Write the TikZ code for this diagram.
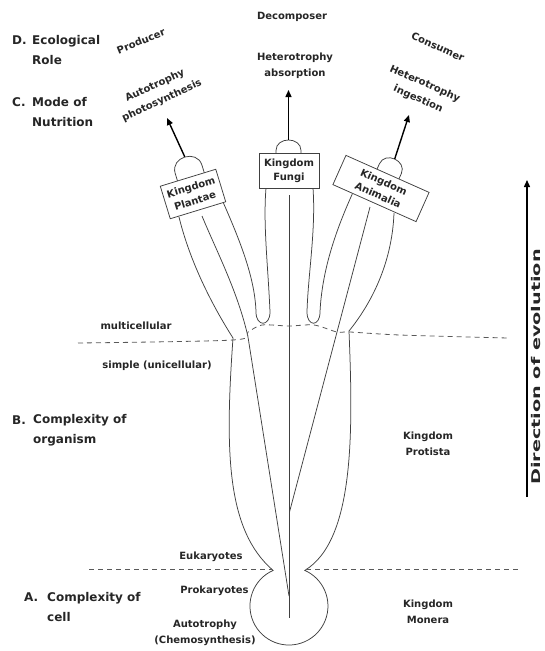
\documentclass[tikz,border=0pt]{standalone}
\usepackage{fontspec}
\setmainfont{DejaVu Sans}
\usetikzlibrary{arrows.meta,calc}
\begin{document}
\begin{tikzpicture}[x=1pt,y=-1pt,
  outline/.style={draw=black!75, line width=0.75pt},
  divider/.style={draw=black!65, line width=0.8pt, dash pattern=on 5pt off 4pt},
  kbox/.style={draw=black!75, fill=white, line width=0.75pt, align=center, inner sep=0pt, font=\bfseries\fontsize{10}{14}\selectfont, text=black!85},
  lab/.style={align=center, inner sep=0pt, font=\bfseries\fontsize{10}{16.5}\selectfont, text=black!85},
  sect/.style={align=left, anchor=west, inner sep=0pt, font=\bfseries\fontsize{12}{20}\selectfont, text=black!85},
  bigarrow/.style={draw=black, line width=1.4pt, -{Triangle[length=7pt,width=6pt]}},
]
\fill[white] (0,0) rectangle (545,651);
\useasboundingbox (0,0) rectangle (545,651);

% domes on top of the branches
\begin{scope}[shift={(193,194)}, rotate=17]
  \draw[outline] (-11,-17) -- (-11,-25) .. controls (-11,-42) and (17,-42) .. (17,-25) -- (17,-17);
  \coordinate (pbase) at (3,-38);
\end{scope}
\begin{scope}[shift={(289,170.5)}]
  \draw[outline] (-13,-17.5) -- (-13,-20) .. controls (-13,-34) and (12,-34) .. (12,-20) -- (12,-17.5);
  \coordinate (fbase) at (-0.5,-30.5);
\end{scope}
\begin{scope}[shift={(381,188.5)}, rotate=-24]
  \draw[outline] (-11.5,-16) -- (-11.5,-22) .. controls (-11.5,-36) and (12.5,-36) .. (12.5,-22) -- (12.5,-16);
  \coordinate (abase) at (0.5,-32.5);
\end{scope}
\coordinate (ptip) at (167,118);
\coordinate (ftip) at (288.5,90);
\coordinate (atip) at (409,115);

% outer outline: Plantae left edge, Protista balloon, Monera circle, Animalia right edge
\draw[outline] (179,217) .. controls (190,262) and (212,305) .. (233,338)
  .. controls (225,450) and (226,530) .. (273.1,570.4)
  arc[start angle=114, end angle=426, radius=39pt]
  .. controls (355,540) and (353,430) .. (349,331)
  .. controls (370,305) and (392,265) .. (394,213);

% Plantae right edge, gap, Fungi left edge
\draw[outline] (223,202) .. controls (242,245) and (255,280) .. (256,312)
  .. controls (256,327) and (270,327) .. (270,312)
  .. controls (268,265) and (263,225) .. (266,188);
% Fungi right edge, gap, Animalia left edge
\draw[outline] (313,188) .. controls (316,230) and (308,275) .. (307,312)
  .. controls (307,327) and (320,327) .. (320,312)
  .. controls (322,270) and (336,230) .. (352.5,193.5);

% stems from the Monera centre
\draw[outline] (202,216) .. controls (216,250) and (238,292) .. (248,337) -- (289,596);
\draw[outline] (289,195) -- (289,618);
\draw[outline] (370,207) -- (289.5,512);

% dividers
\draw[divider] plot[smooth, tension=0.5] coordinates {(78,343) (233,340) (248,332) (262,325) (289,326) (314,325) (337,332) (350,332) (400,335) (508,338)};
\draw[divider] (89,569) -- (272,569);
\draw[divider] (306,569) -- (521,569);

% kingdom boxes
\node[kbox, minimum width=58pt, minimum height=34pt, rotate=17] (plantae) at (193,194) {Kingdom\\Plantae};
\node[kbox, minimum width=60pt, minimum height=35pt] (fungi) at (289,170.5) {Kingdom\\Fungi};
\node[kbox, minimum width=91pt, minimum height=32pt, rotate=-24] (animalia) at (381,188.5) {Kingdom\\Animalia};

% arrows of nutrition
\draw[bigarrow] (pbase) -- (ptip);
\draw[bigarrow] (fbase) -- (ftip);
\draw[bigarrow] (abase) -- (atip);

% top labels
\node[lab, rotate=22] (producer) at (141,41) {Producer};
\node[lab] (decomposer) at (292,17) {Decomposer};
\node[lab, rotate=-24] (consumer) at (438,47) {Consumer};
\node[lab, rotate=25] (autotrophy) at (158.5,93) {Autotrophy\\photosynthesis};
\node[lab] (absorption) at (295,65.5) {Heterotrophy\\absorption};
\node[lab, rotate=-24] (ingestion) at (421.5,91.5) {Heterotrophy\\ingestion};

% section labels
\node[sect] (dl) at (12,40) {D.};
\node[sect] (dt) at (32,50) {Ecological\\Role};
\node[sect] (cl) at (12,102.5) {C.};
\node[sect] (ct) at (32,112.5) {Mode of\\Nutrition};
\node[sect] (bl) at (12,420) {B.};
\node[sect] (bt) at (33,430.5) {Complexity of\\organism};
\node[sect] (al) at (24,597.5) {A.};
\node[sect] (at) at (47,607) {Complexity of\\cell};

% middle labels
\node[lab] (multi) at (136,326) {multicellular};
\node[lab] (simple) at (157,366) {simple (unicellular)};
\node[lab] (protista) at (428,444) {Kingdom\\Protista};
\node[lab] (eukar) at (211,557) {Eukaryotes};
\node[lab] (prokar) at (214.5,590.5) {Prokaryotes};
\node[lab] (chemo) at (205,633) {Autotrophy\\(Chemosynthesis)};
\node[lab] (monera) at (428,612) {Kingdom\\Monera};

% direction of evolution
\coordinate (evo0) at (527,497);
\coordinate (evo1) at (527,180);
\draw[bigarrow] (evo0) -- (evo1);
\node[lab, rotate=90, font=\bfseries\fontsize{12}{14}\selectfont] (direction) at (536,367) {\scalebox{1.6}[1]{Direction of evolution}};
\end{tikzpicture}
\end{document}
